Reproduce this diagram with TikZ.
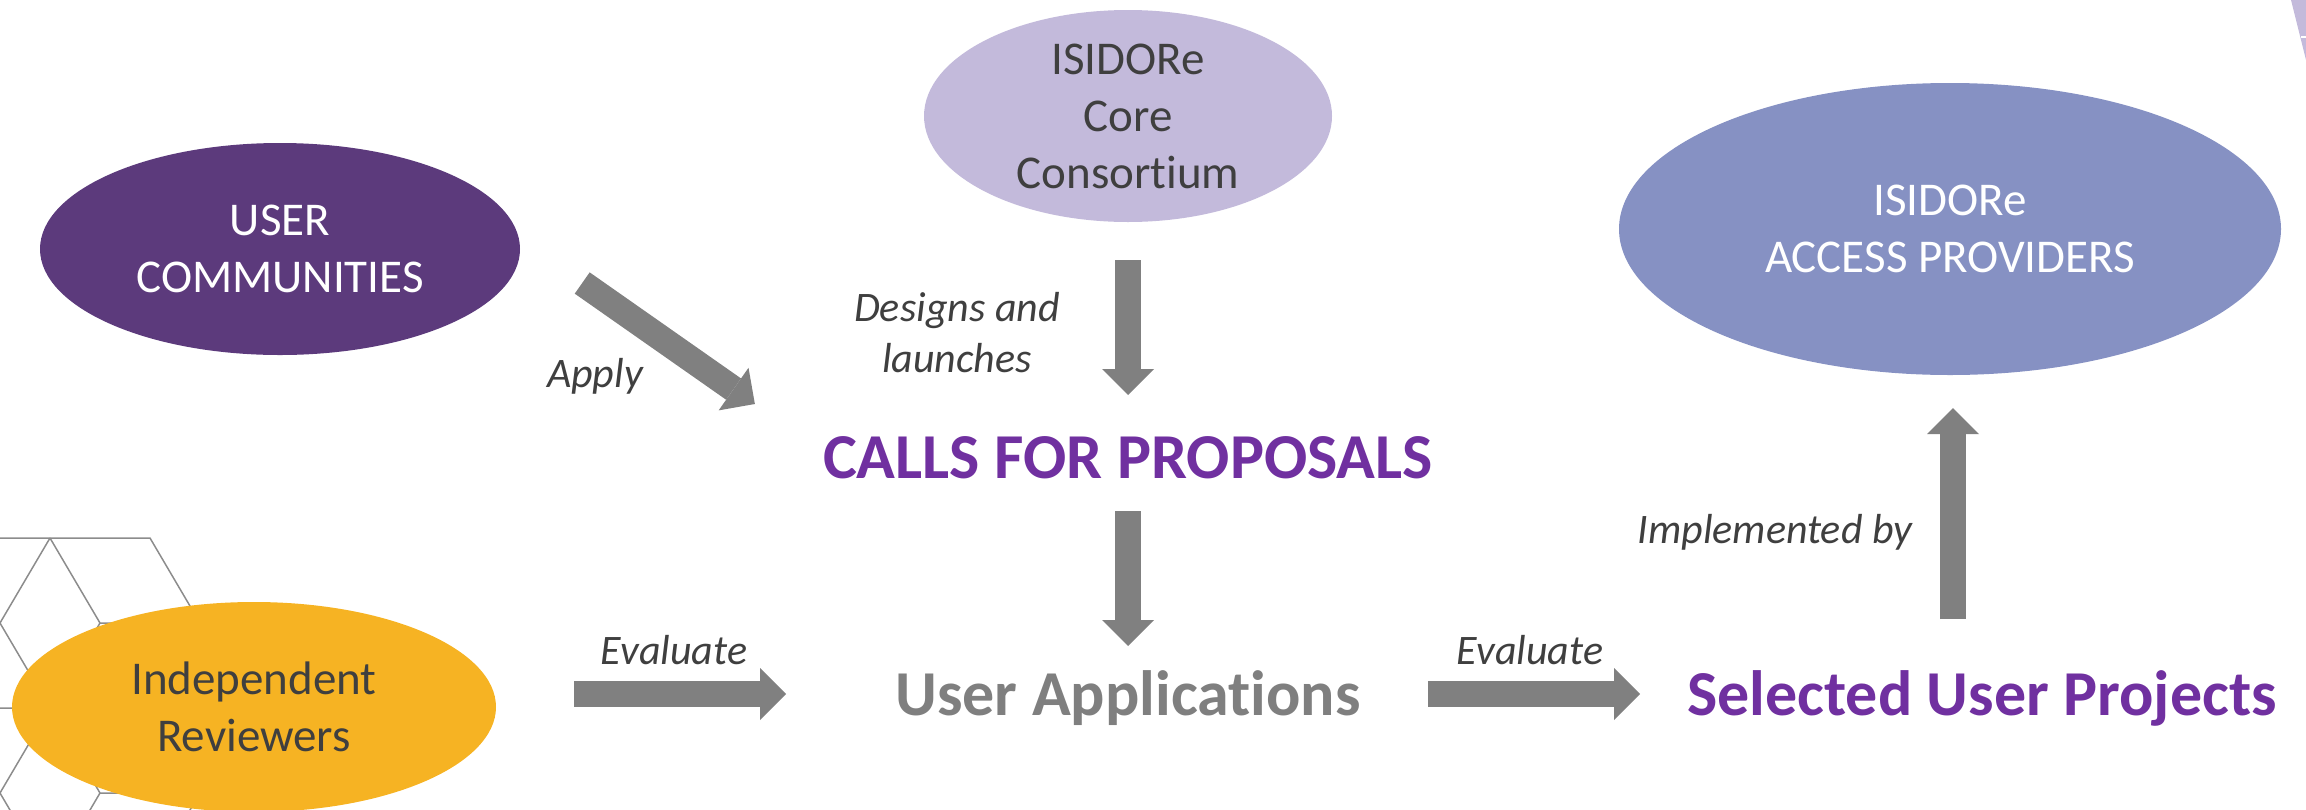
\documentclass[tikz,border=0pt]{standalone}
\usepackage{fontspec}
\setmainfont{Carlito}[Ligatures=NoCommon]
\usepackage{tikz}
\usetikzlibrary{arrows.meta,positioning,shapes.geometric}
\definecolor{usrpurple}{HTML}{5C3A7C}
\definecolor{corelav}{HTML}{C3BADB}
\definecolor{provblue}{HTML}{8691C3}
\definecolor{revgold}{HTML}{F6B323}
\definecolor{arrowgrey}{HTML}{808080}
\definecolor{callpurple}{HTML}{7030A0}
\definecolor{appgrey}{HTML}{7F7F7F}
\definecolor{ink}{HTML}{3F3F3F}
\definecolor{hexgrey}{HTML}{8C8C8C}
\tikzset{
  blob/.style={ellipse, inner sep=0pt, align=center, font=\fontsize{47}{57}\selectfont},
  flow/.style={draw=arrowgrey, line width=26pt, -{Triangle[width=52pt,length=26pt,line width=0pt]}},
  verb/.style={text=ink, inner sep=0pt, align=center, font=\fontsize{42}{51}\selectfont\itshape},
  stage/.style={inner sep=0pt, font=\fontsize{64}{70}\selectfont\bfseries},
  hexline/.style={draw=hexgrey, line width=1.5pt},
}

\begin{document}
\begin{tikzpicture}[x=1pt,y=-1pt]
\useasboundingbox (0,0) rectangle (2306,809);
\fill[corelav] (2291,0) -- (2306,0) -- (2306,60) -- cycle;
\draw[white, line width=1.5pt] (2301,37) -- (2306,37);

\draw[hexline] (0,538) -- (150,538) -- (200,623) -- (150,708) -- (0,708);
\draw[hexline] (50,538) -- (0,623) -- (50,708) -- (0,793) -- (50,878);
\draw[hexline] (50,538) -- (100,623) -- (200,623);
\draw[hexline] (100,623) -- (50,708);
\draw[hexline] (150,708) -- (200,793) -- (150,878);
\draw[hexline] (50,708) -- (100,793) -- (200,793);
\draw[hexline] (100,793) -- (50,878);

\node[blob, fill=usrpurple, text=white, minimum width=480pt, minimum height=212pt] (users) at (280,249) {USER\\COMMUNITIES};
\node[blob, fill=corelav, text=ink, minimum width=408pt, minimum height=212pt] (core) at (1128,116) {ISIDORe\\Core\\Consortium};
\node[blob, fill=provblue, text=white, minimum width=662pt, minimum height=292pt] (access) at (1950,229) {ISIDORe\\ACCESS PROVIDERS};
\node[blob, fill=revgold, text=ink, minimum width=484pt, minimum height=210pt] (reviewers) at (254,707) {Independent\\Reviewers};

\node[stage, text=callpurple, anchor=base] (calls) at (1128,478) {CALLS FOR PROPOSALS};
\node[stage, text=appgrey, anchor=base] (apps) at (1128,715) {User Applications};
\node[stage, text=callpurple, anchor=base west] (selected) at (1687,715) {Selected User Projects};

\node[verb, anchor=base] (apply) at (595,387) {Apply};
\node[verb] (designs) at (957,333) {Designs and\\launches};
\node[verb, anchor=base] (evalleft) at (674,664) {Evaluate};
\node[verb, anchor=base] (evalright) at (1530,664) {Evaluate};
\node[verb, anchor=base] (impl) at (1775,543) {Implemented by};

\draw[flow] ([shift={(62,34)}]users.east) -- ([shift={(-68,-74)}]calls.base west);
\draw[flow] ([shift={(0,38)}]core.south) -- ([shift={(0,-83)}]calls.base);
\draw[flow] ([shift={(0,33)}]calls.base) -- ([shift={(0,-69)}]apps.base);
\draw[flow] ([shift={(78,-13)}]reviewers.east) -- ([shift={(-109,-21)}]apps.base west);
\draw[flow] ([shift={(67,-21)}]apps.base east) -- ([shift={(-47,-21)}]selected.base west);
\draw[flow] ([shift={(266,-96)}]selected.base west) -- ([shift={(3,33)}]access.south);
\end{tikzpicture}
\end{document}
